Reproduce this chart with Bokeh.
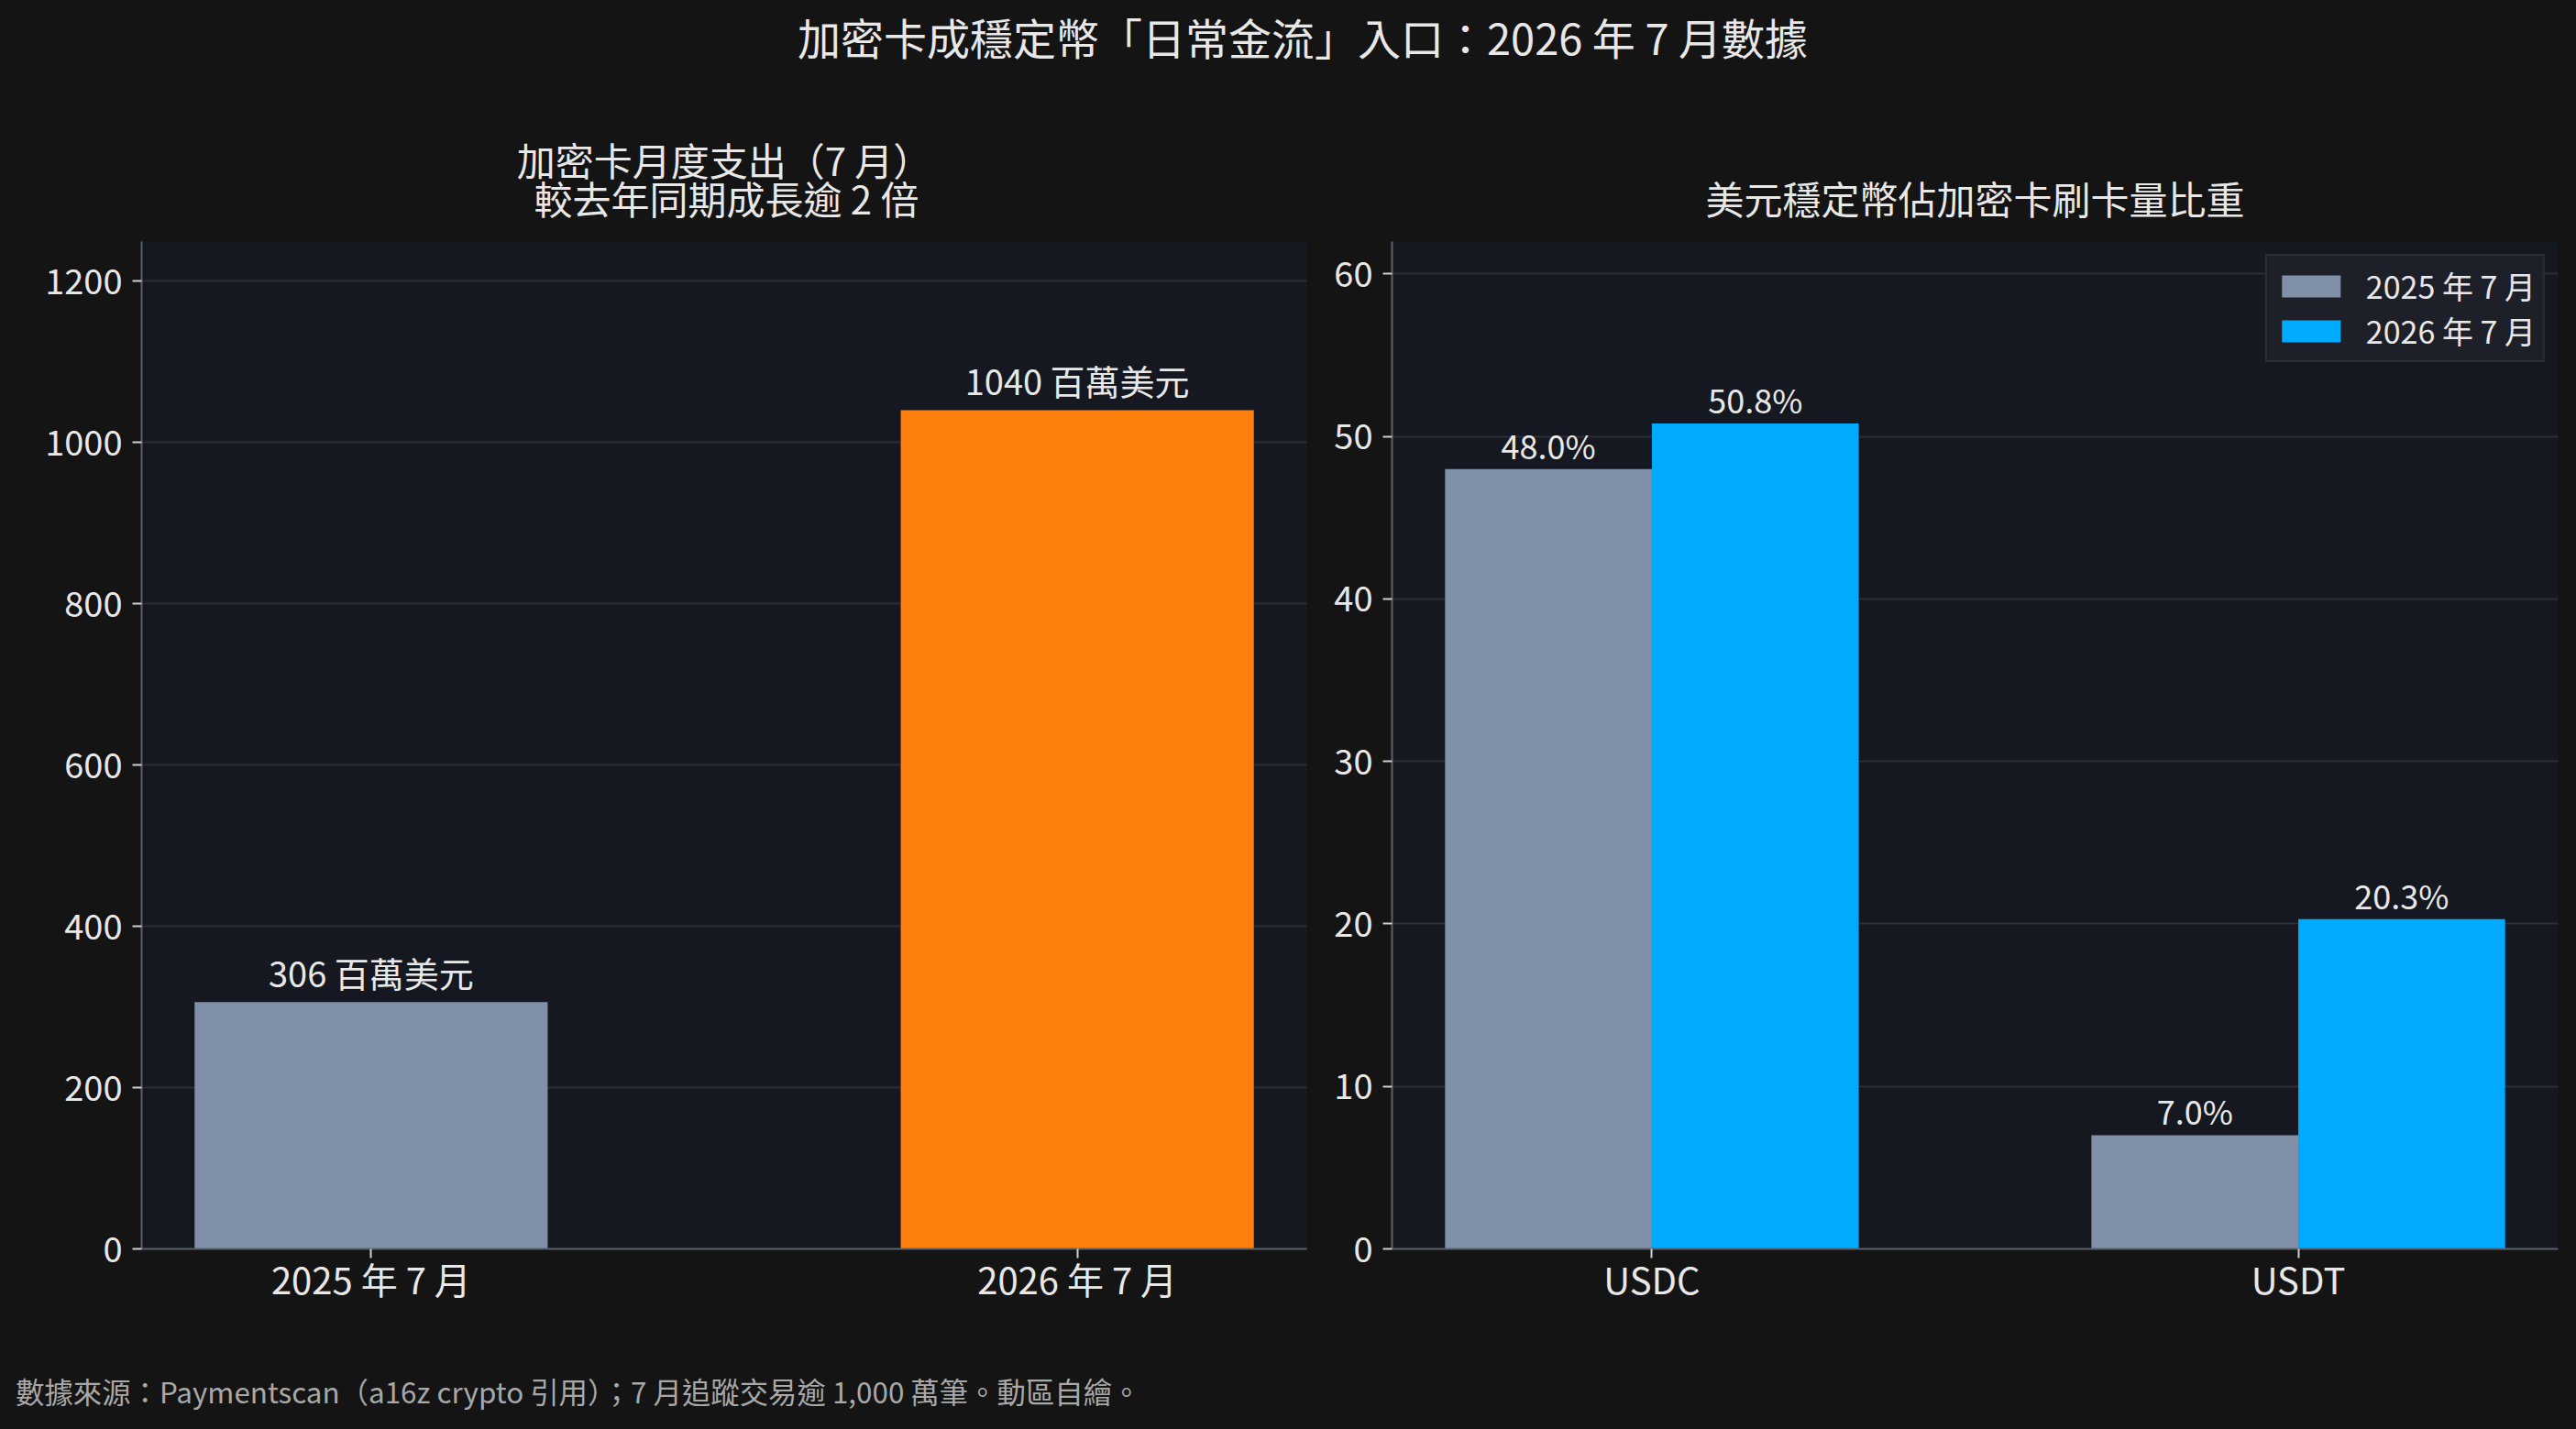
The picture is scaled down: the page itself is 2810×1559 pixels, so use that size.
import numpy as np
from bokeh.plotting import figure
from bokeh.models import ColumnDataSource, LabelSet, Title, Div, SingleIntervalTicker, FixedTicker
from bokeh.layouts import column, row
from bokeh.core.properties import value
from bokeh.embed import file_html
from bokeh.resources import INLINE

FONT = "Noto Sans CJK TC"
BG = "#141414"
PANEL = "#151821"
TXT = "#e8e8e8"
GRAY = "#8090a8"
ORANGE = "#ff7f0e"
BLUE = "#00aaff"

# data
suptitle = "加密卡成穩定幣「日常金流」入口：2026 年 7 月數據"
footnote = "數據來源：Paymentscan（a16z crypto 引用）；7 月追蹤交易逾 1,000 萬筆。動區自繪。"

periods = ["2025 年 7 月", "2026 年 7 月"]
spend = [306, 1040]
spend_text = ["306 百萬美元", "1040 百萬美元"]

coins = ["USDC", "USDT"]
share_2025 = [48.0, 7.0]
share_2026 = [50.8, 20.3]


def style(p):
    p.background_fill_color = PANEL
    p.border_fill_color = BG
    p.outline_line_color = None
    p.xgrid.grid_line_color = None
    p.ygrid.grid_line_color = "#2c2d36"
    p.ygrid.grid_line_width = 2
    for ax in (p.xaxis, p.yaxis):
        ax.axis_line_color = "#5c6068"
        ax.axis_line_width = 2
        ax.major_tick_line_color = "#d0d0d0"
        ax.major_tick_line_width = 2
        ax.major_tick_out = 10
        ax.major_tick_in = 0
        ax.minor_tick_line_color = None
        ax.major_label_text_color = TXT
        ax.major_label_text_font = FONT
    p.yaxis.major_label_standoff = 11
    p.yaxis.major_label_text_font_size = "38px"
    p.xaxis.major_label_text_font_size = "40px"
    p.xaxis.major_label_standoff = -7


def add_title(p, text, line_height=1.0):
    p.add_layout(Title(text=text, align="center", text_color=TXT, text_font=FONT,
                       text_font_size="42px", text_font_style="normal",
                       text_line_height=line_height, standoff=35), "above")


# left chart: monthly spend
x1 = np.arange(len(periods))
p1 = figure(width=1432, height=1372, x_range=(-0.325, 1.325), y_range=(0, 1249),
            output_backend="svg", toolbar_location=None,
            min_border_left=154, min_border_right=7, min_border_top=183, min_border_bottom=90)
style(p1)
src1 = ColumnDataSource(dict(x=x1, top=spend, c=[GRAY, ORANGE], label=spend_text))
p1.vbar(x="x", top="top", width=0.5, fill_color="c", line_color=None, source=src1)
p1.add_layout(LabelSet(x="x", y="top", text="label", source=src1, y_offset=16,
                       text_align="center", text_baseline="alphabetic",
                       text_color=TXT, text_font=value(FONT), text_font_size="38px"))
p1.yaxis.ticker = SingleIntervalTicker(interval=200)
p1.xaxis.ticker = FixedTicker(ticks=list(x1))
p1.xaxis.major_label_overrides = {int(i): s for i, s in zip(x1, periods)}
# multi-line titles are left-aligned, so the second line is nudged with two nbsp
add_title(p1, "加密卡月度支出（7 月）\n\u00a0\u00a0較去年同期成長逾 2 倍", line_height=0.69)

# right chart: stablecoin share
x2 = np.arange(len(coins))
w = 0.32
p2 = figure(width=1370, height=1372, x_range=(-0.402, 1.402), y_range=(0, 62),
            output_backend="svg", toolbar_location=None,
            min_border_left=86, min_border_right=12, min_border_top=183, min_border_bottom=90)
style(p2)
src_a = ColumnDataSource(dict(x=x2 - w / 2, top=share_2025, label=[f"{v:.1f}%" for v in share_2025]))
src_b = ColumnDataSource(dict(x=x2 + w / 2, top=share_2026, label=[f"{v:.1f}%" for v in share_2026]))
p2.vbar(x="x", top="top", width=w, fill_color=GRAY, line_color=None, source=src_a,
        legend_label=periods[0])
p2.vbar(x="x", top="top", width=w, fill_color=BLUE, line_color=None, source=src_b,
        legend_label=periods[1])
for s in (src_a, src_b):
    p2.add_layout(LabelSet(x="x", y="top", text="label", source=s, y_offset=11,
                           text_align="center", text_baseline="alphabetic",
                           text_color=TXT, text_font=value(FONT), text_font_size="36px"))
p2.yaxis.ticker = SingleIntervalTicker(interval=10)
p2.xaxis.ticker = FixedTicker(ticks=list(x2))
p2.xaxis.major_label_overrides = {int(i): s for i, s in zip(x2, coins)}
add_title(p2, "美元穩定幣佔加密卡刷卡量比重")

# legend swatches are drawn with a 10% inset, so the glyph box is a bit larger
lg = p2.legend[0]
lg.location = "top_right"
lg.margin = 14
lg.padding = 8
lg.spacing = 0
lg.glyph_width = 80
lg.glyph_height = 30
lg.label_height = 30
lg.label_standoff = 20
lg.label_text_font = FONT
lg.label_text_font_size = "34px"
lg.label_text_color = TXT
lg.background_fill_color = "#1e2029"
lg.background_fill_alpha = 1.0
lg.border_line_color = "#3a3c46"
lg.border_line_width = 2

head = Div(text=suptitle, width=2802, height=70,
           styles={"background-color": BG, "color": TXT, "font-family": FONT,
                   "font-size": "47px", "line-height": "70px", "text-align": "center",
                   "padding-left": "30px", "box-sizing": "border-box", "width": "2802px"})
foot = Div(text=f'<div style="padding-top:45px;padding-left:12px;line-height:32px">{footnote}</div>',
           width=2802, height=101,
           styles={"background-color": BG, "color": "#a8a8a8", "font-family": FONT,
                   "font-size": "31.4px", "width": "2802px"})

page = column(head, row(p1, p2), foot, styles={"background-color": BG})

open("out.html", "w").write(file_html(page, INLINE))
